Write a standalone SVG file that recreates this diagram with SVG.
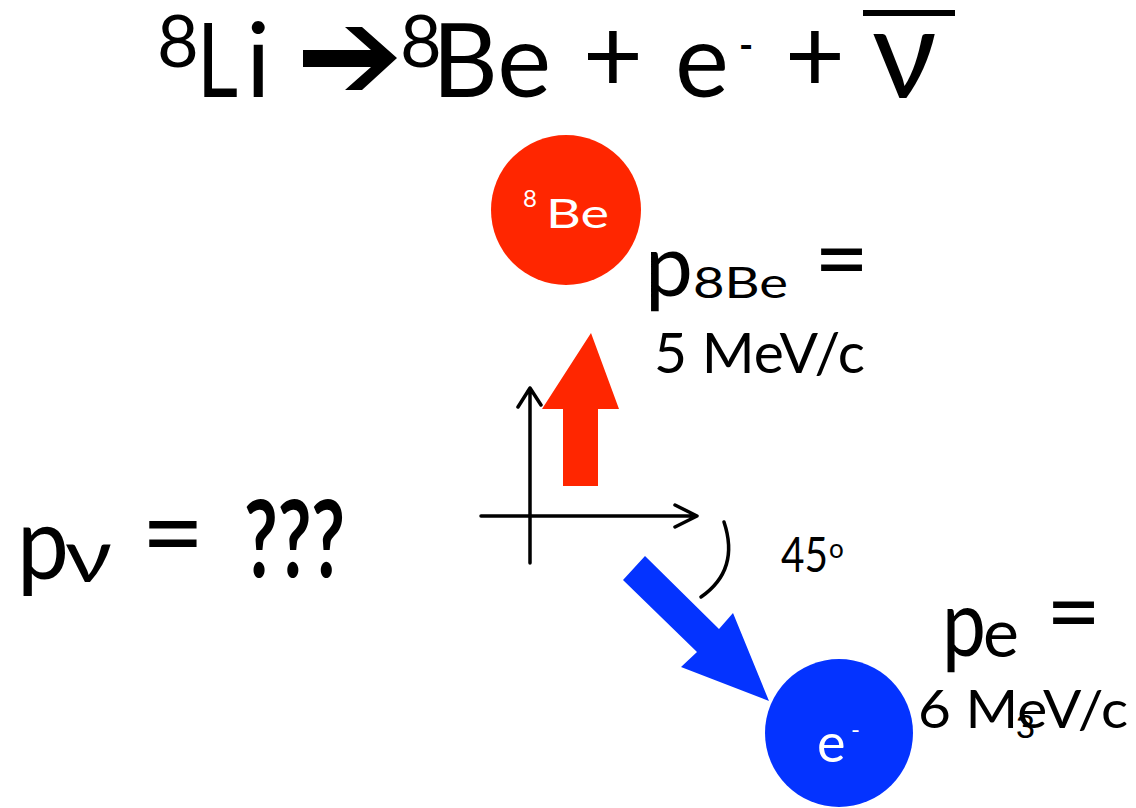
<svg xmlns="http://www.w3.org/2000/svg" width="1136" height="808" viewBox="0 0 1136 808">
<style>
.t{font-family:Lato,"Open Sans","DejaVu Sans",sans-serif;fill:#000}
.w{font-family:Lato,"Open Sans","DejaVu Sans",sans-serif;fill:#fff}
.ax{stroke:#000;stroke-width:3.5;fill:none;stroke-linecap:round;stroke-linejoin:round}
</style>
<rect width="1136" height="808" fill="#fff"/>
<g id="title">
<text class="t" x="157" y="67" font-size="72">8</text>
<text class="t" x="197" y="97" font-size="102" textLength="41" lengthAdjust="spacingAndGlyphs">L</text>
<text class="t" x="246" y="97" font-size="102">i</text>
<polygon fill="#000" points="303,50 371,50 345,27 362,27 397,58 362,90 345,90 371,67 303,67"/>
<text class="t" x="400" y="67" font-size="72">8</text>
<text class="t" x="432" y="97" font-size="102">Be</text>
<text class="t" x="613" y="92" font-size="104" text-anchor="middle">+</text>
<text class="t" x="675" y="97" font-size="102">e</text>
<text class="t" x="739" y="59" font-size="38" font-weight="bold">-</text>
<text class="t" x="815" y="92" font-size="104" text-anchor="middle">+</text>
<text class="t" x="872" y="98" font-size="126">ν</text>
<line x1="863" y1="13" x2="955" y2="13" stroke="#000" stroke-width="6"/>
</g>
<g id="connectors">
<path class="ax" d="M530 563 V388 M518 407 L530 388 L541 405"/>
<path class="ax" d="M481 516 H697 M675 505 L697 516 L675 527"/>
<path class="ax" d="M724 522 Q740 570 701 597"/>
<polygon fill="#ff2600" points="563,486 598,486 598,409 619,409 591,333 542,409 563,409"/>
<polygon fill="#0433ff" points="623,580 645,556 719,629 733,613 769,701 681,667 697,652"/>
</g>
<g id="be8">
<circle cx="566" cy="210" r="75" fill="#ff2600"/>
<text class="w" x="523" y="207" font-size="24">8</text>
<text class="w" x="546" y="228" font-size="40" textLength="63" lengthAdjust="spacingAndGlyphs">Be</text>
</g>
<g id="electron">
<circle cx="839" cy="733" r="74" fill="#0433ff"/>
<text class="w" x="817" y="762" font-size="54">e</text>
<text class="w" x="851" y="738" font-size="24">-</text>
</g>
<g id="labels">
<text class="t" x="645" y="296" font-size="88" textLength="48" lengthAdjust="spacingAndGlyphs">p</text>
<text class="t" x="693" y="298" font-size="42" textLength="95" lengthAdjust="spacingAndGlyphs">8Be</text>
<text class="t" x="814" y="292" font-size="95">=</text>
<text class="t" x="654" y="373" font-size="57">5 MeV/c</text>
<text class="t" x="781" y="572" font-size="48" textLength="47" lengthAdjust="spacingAndGlyphs">45</text>
<text class="t" x="829" y="558" font-size="26">o</text>
<text class="t" x="942" y="656" font-size="93" textLength="44" lengthAdjust="spacingAndGlyphs">p</text>
<text class="t" x="983" y="657" font-size="68">e</text>
<text class="t" x="1046" y="645" font-size="95">=</text>
<text class="t" x="918" y="728" font-size="53" textLength="210" lengthAdjust="spacingAndGlyphs">6 MeV/c</text>
<text x="1016" y="738" font-size="34" font-family="Liberation Sans,sans-serif" fill="#000">3</text>
<text class="t" x="17" y="579" font-size="100" textLength="52" lengthAdjust="spacingAndGlyphs">p</text>
<text class="t" x="65" y="582" font-size="74" textLength="47" lengthAdjust="spacingAndGlyphs">ν</text>
<text class="t" x="141" y="571" font-size="110">=</text>
<text class="t" x="244" y="577" font-size="108" font-weight="bold" textLength="101" lengthAdjust="spacingAndGlyphs">???</text>
</g>
</svg>
